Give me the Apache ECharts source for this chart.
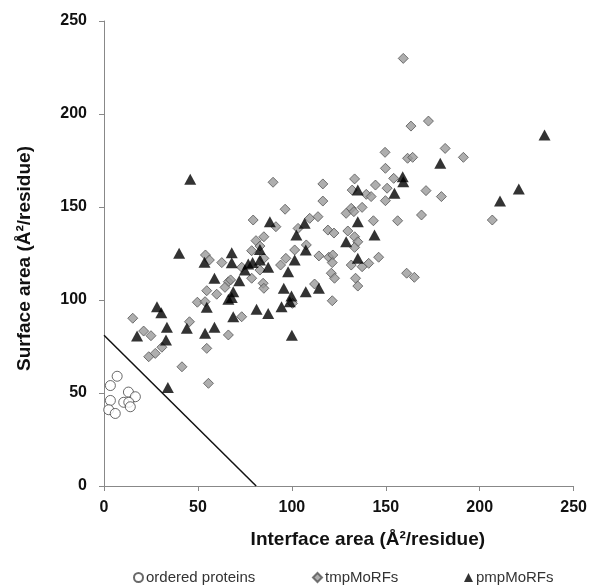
<!DOCTYPE html>
<html>
<head>
<meta charset="utf-8">
<script src="https://cdn.jsdelivr.net/npm/echarts@6/dist/echarts.min.js"></script>
<style>
html,body{margin:0;padding:0;background:#fff;}
#chart{width:590px;height:586px;}
</style>
</head>
<body>
<div id="chart"></div>
<script>
const xTicks = [0, 50, 100, 150, 200, 250];
const yTicks = [0, 50, 100, 150, 200, 250];
const seriesNames = ['ordered proteins', 'tmpMoRFs', 'pmpMoRFs'];

const ordered = [[7,59],[3.4,54],[13,50.5],[16.7,48],[3.4,46],[10.5,45],[13.2,45],[14,42.6],[2.5,41],[6,39]];

const tmpMoRFs = [
[54,124.2],[56.1,121.5],[62.7,120.1],[66.2,109.8],[54.7,105],[60,103.1],[64.4,106.8],[49.7,98.8],[53.8,99.1],[15.3,90.2],[45.5,88.3],[21.1,83.3],[25,80.8],[66.2,81.2],[30.8,74.6],[27.3,71.3],[23.8,69.5],[54.7,74],[41.5,64.1],[55.6,55.2],
[90,163.3],[96.4,148.8],[79.4,143],[91.5,139.4],[103.3,138.5],[85.1,134],[80.9,131.9],[107.7,129.6],[83,129],[101.5,126.9],[78.6,126.5],[85.1,122.4],[96.8,122.4],[94,118.8],[73.3,117.6],[83,116.1],[67.4,110.8],[78.6,111.7],[84.7,109],[85.1,106.3],[73.3,91],
[149.6,179.4],[161.6,176.2],[164.3,176.7],[149.8,170.8],[154.2,165.4],[150.7,160.1],[149.8,153.4],[144.5,161.8],[133.4,165.1],[132.1,159.1],[139.6,156.8],[142.2,155.6],[116.5,162.4],[116.5,153.2],[137.4,149.8],[131.6,149.3],[128.9,146.6],[133,147.5],[143.4,142.6],[156.3,142.6],[129.8,137.1],[133.4,134],[135.1,131.3],[133.4,128.3],[119.2,137.6],[122.4,136],[109.5,143.9],[113.9,144.8],[114.4,123.7],[119.7,123],[121.8,124.2],[121.5,120.1],[131.6,118.8],[137.4,117.9],[140.9,119.7],[146.2,123],[121,114.4],[122.7,111.7],[133.9,111.7],[135.1,107.5],[112.1,108.6],[100.3,98.2],[121.5,99.6],
[159.3,229.9],[163.4,193.5],[172.7,196.2],[181.6,181.5],[191.3,176.7],[171.4,158.8],[179.6,155.6],[169,145.7],[206.7,143],[161.1,114.4],[165.2,112.2]
];

const pmpMoRFs = [
[40,125.1],[53.5,120.3],[58.8,111.7],[66.2,100.4],[54.7,96.1],[28.2,96.4],[30.5,93.2],[44.1,84.8],[33.5,85.3],[17.6,80.6],[53.8,82.1],[58.8,85.3],[33,78.5],[34,52.9],
[45.9,164.9],[88.3,142.1],[106.8,141.2],[102.4,134.9],[83,127.2],[68,125.4],[68,120],[83,121.5],[101.5,121.5],[76.8,119.4],[79.1,120.1],[87.4,117.6],[75,116.1],[98,115.2],[72,110.4],[68.8,104.5],[68,101.4],[95.7,106.3],[99.8,102.2],[107.4,104.5],[98.9,99.1],[81.2,95],[87.4,92.8],[94.5,96.4],[68.8,91],[100,81],
[159,166.3],[159.3,163.6],[154.6,157.4],[135.1,159.1],[135.1,142.1],[144,134.9],[128.9,131.3],[107.4,126.9],[135.1,122.4],[114.4,106.3],
[179,173.5],[234.5,188.7],[220.8,159.7],[210.8,153.2]
];

const boundary = [[0,81],[81,0]];

const FONT = '"Liberation Sans", Arial, sans-serif';
const chart = echarts.init(document.getElementById('chart'), null, {renderer:'canvas'});

function legendAt(name, left, icon) {
  return {
    data:[{name:name, icon:icon}],
    left:left, top:565,
    itemWidth:9, itemHeight:9, itemGap:4,
    textStyle:{fontFamily:FONT, fontSize:15, color:'#333', padding:[0,0,0,-2]},
    selectedMode:false
  };
}

chart.setOption({
  animation:false,
  backgroundColor:'#fff',
  grid:{left:104, right:15, top:21, bottom:100, containLabel:false},
  legend:[
    legendAt(seriesNames[0], 128, 'circle'),
    legendAt(seriesNames[1], 307, 'diamond'),
    legendAt(seriesNames[2], 459, 'triangle')
  ],
  xAxis:{
    type:'value', min:xTicks[0], max:xTicks[xTicks.length-1], interval:50,
    name:'Interface area (Å²/residue)', nameLocation:'middle', nameGap:44,
    nameTextStyle:{fontFamily:FONT, fontSize:19, fontWeight:'bold', color:'#111', padding:[0,0,0,58]},
    axisLine:{lineStyle:{color:'#888', width:1}},
    axisTick:{show:true, length:5, lineStyle:{color:'#888'}},
    axisLabel:{fontFamily:FONT, fontSize:16, fontWeight:'bold', color:'#111', margin:14},
    splitLine:{show:false}
  },
  yAxis:{
    type:'value', min:yTicks[0], max:yTicks[yTicks.length-1], interval:50,
    name:'Surface area (Å²/residue)', nameLocation:'middle', nameGap:70, nameRotate:90,
    nameTextStyle:{fontFamily:FONT, fontSize:19, fontWeight:'bold', color:'#111', padding:[0,10,0,0]},
    axisLine:{show:true, lineStyle:{color:'#888', width:1}},
    axisTick:{show:true, length:5, lineStyle:{color:'#888'}},
    axisLabel:{fontFamily:FONT, fontSize:16, fontWeight:'bold', color:'#111', margin:17},
    splitLine:{show:false}
  },
  series:[
    {
      type:'line', data:boundary, symbol:'none', silent:true,
      lineStyle:{color:'#111', width:1.5}, z:1
    },
    {
      name:seriesNames[0], type:'scatter', data:ordered, symbol:'circle', symbolSize:10,
      itemStyle:{color:'#fff', borderColor:'#444', borderWidth:1}
    },
    {
      name:seriesNames[1], type:'scatter', data:tmpMoRFs, symbol:'diamond', symbolSize:[10,10],
      itemStyle:{color:'#9a9a9a', borderColor:'#555', borderWidth:1}
    },
    {
      name:seriesNames[2], type:'scatter', data:pmpMoRFs, symbol:'triangle', symbolSize:[12,11],
      itemStyle:{color:'#000'}
    }
  ]
});
</script>
</body>
</html>
